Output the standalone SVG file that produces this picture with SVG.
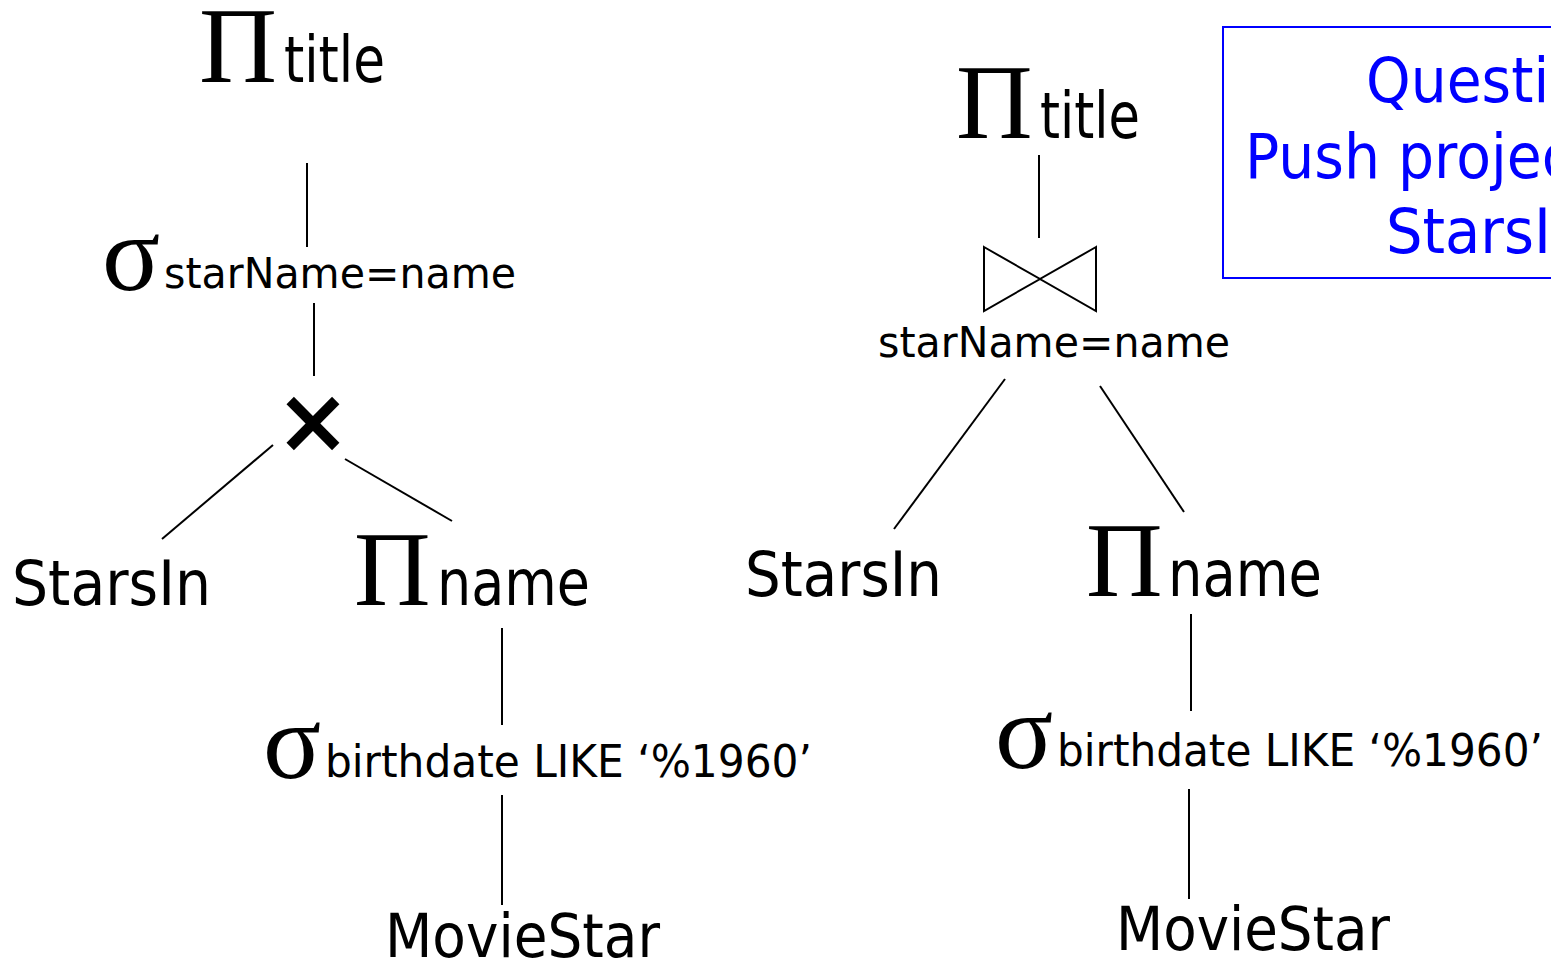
<svg xmlns="http://www.w3.org/2000/svg" width="1551" height="963" viewBox="0 0 1551 963">
<style>
.g{font-family:"Liberation Serif","Times New Roman",serif;fill:#000}
.s{font-family:"DejaVu Sans","Liberation Sans",sans-serif;fill:#000}
.q{font-family:"DejaVu Sans","Liberation Sans",sans-serif;fill:#0000ff;font-size:62px}
.e{stroke:#000;stroke-width:2;fill:none}
</style>
<rect width="1551" height="963" fill="#fff"/>
<g id="connectors" class="e">
<line x1="307" y1="163" x2="307" y2="247"/>
<line x1="314" y1="303" x2="314" y2="376"/>
<line x1="273" y1="445" x2="162" y2="539"/>
<line x1="345" y1="459" x2="452" y2="521"/>
<line x1="502" y1="628" x2="502" y2="725"/>
<line x1="502" y1="795" x2="502" y2="905"/>
<line x1="1039" y1="155" x2="1039" y2="238"/>
<line x1="1005" y1="379" x2="894" y2="529"/>
<line x1="1100" y1="386" x2="1184" y2="512"/>
<line x1="1191" y1="614" x2="1191" y2="711"/>
<line x1="1189" y1="789" x2="1189" y2="899"/>
</g>
<g id="L_project_title"><text class="g" x="199" y="82" font-size="108">Π</text><text class="s" x="284" y="82" font-size="64" textLength="101" lengthAdjust="spacingAndGlyphs">title</text></g>
<g id="L_select_join"><text class="g" x="102" y="290" font-size="108">σ</text><text class="s" x="164" y="288" font-size="43" textLength="352" lengthAdjust="spacingAndGlyphs">starName=name</text></g>
<g id="L_cross"><text class="s" x="313" y="452" font-size="90" font-weight="bold" text-anchor="middle">×</text></g>
<g id="L_starsin"><text class="s" x="12" y="605" font-size="62" textLength="199" lengthAdjust="spacingAndGlyphs">StarsIn</text></g>
<g id="L_project_name"><text class="g" x="354" y="605" font-size="106">Π</text><text class="s" x="437" y="605" font-size="64" textLength="153" lengthAdjust="spacingAndGlyphs">name</text></g>
<g id="L_select_birth"><text class="g" x="263" y="778" font-size="108">σ</text><text class="s" x="325" y="777" font-size="44" textLength="487" lengthAdjust="spacingAndGlyphs">birthdate LIKE ‘%1960’</text></g>
<g id="L_moviestar"><text class="s" x="385" y="957" font-size="61" textLength="275" lengthAdjust="spacingAndGlyphs">MovieStar</text></g>
<g id="R_project_title"><text class="g" x="956" y="138" font-size="106">Π</text><text class="s" x="1040" y="138" font-size="64" textLength="100" lengthAdjust="spacingAndGlyphs">title</text></g>
<g id="R_join"><polygon class="e" points="984,247 1040,279 984,311"/><polygon class="e" points="1096,247 1040,279 1096,311"/><text class="s" x="878" y="357" font-size="42" textLength="352" lengthAdjust="spacingAndGlyphs">starName=name</text></g>
<g id="R_starsin"><text class="s" x="745" y="596" font-size="62" textLength="197" lengthAdjust="spacingAndGlyphs">StarsIn</text></g>
<g id="R_project_name"><text class="g" x="1086" y="596" font-size="106">Π</text><text class="s" x="1168" y="596" font-size="64" textLength="154" lengthAdjust="spacingAndGlyphs">name</text></g>
<g id="R_select_birth"><text class="g" x="995" y="768" font-size="108">σ</text><text class="s" x="1057" y="766" font-size="44" textLength="486" lengthAdjust="spacingAndGlyphs">birthdate LIKE ‘%1960’</text></g>
<g id="R_moviestar"><text class="s" x="1116" y="950" font-size="61" textLength="274" lengthAdjust="spacingAndGlyphs">MovieStar</text></g>
<g id="question">
<rect x="1223" y="27" width="400" height="251" fill="none" stroke="#0000ff" stroke-width="2"/>
<text class="q" x="1366" y="102" textLength="273" lengthAdjust="spacingAndGlyphs">Question:</text>
<text class="q" x="1245" y="178" textLength="512" lengthAdjust="spacingAndGlyphs">Push projection to</text>
<text class="q" x="1386" y="253" textLength="232" lengthAdjust="spacingAndGlyphs">StarsIn?</text>
</g>
</svg>
